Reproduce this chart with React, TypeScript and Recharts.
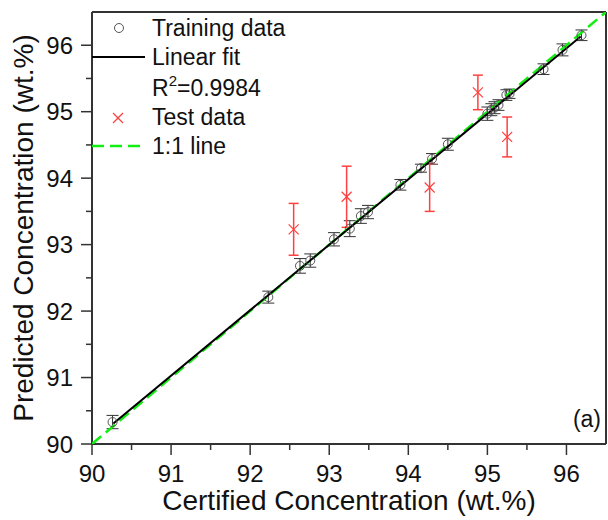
import { ScatterChart, Scatter, XAxis, YAxis, ErrorBar, ReferenceLine } from 'recharts';

// training samples: certified vs predicted concentration (wt.%)
const trainCertified = [90.26, 92.23, 92.63, 92.76, 93.06, 93.26, 93.4, 93.49, 93.9, 94.16, 94.3, 94.5, 95.0, 95.05, 95.09, 95.14, 95.24, 95.28, 95.71, 95.95, 96.19];
const trainPredicted = [90.33, 92.21, 92.68, 92.76, 93.08, 93.24, 93.43, 93.49, 93.9, 94.15, 94.29, 94.51, 94.97, 95.03, 95.06, 95.1, 95.25, 95.27, 95.64, 95.93, 96.15];
const trainError = [0.1, 0.09, 0.11, 0.1, 0.1, 0.12, 0.11, 0.1, 0.08, 0.06, 0.08, 0.09, 0.1, 0.09, 0.09, 0.08, 0.08, 0.07, 0.08, 0.09, 0.08];

// test samples
const testCertified = [92.55, 93.22, 94.27, 94.88, 95.25];
const testPredicted = [93.23, 93.72, 93.86, 95.29, 94.62];
const testError = [0.39, 0.46, 0.36, 0.26, 0.3];

// linear fit end points and the 1:1 line
const fitX = [90.27, 96.18];
const fitY = [90.31, 96.13];
const identityX = [90, 96.5];

const axisTicks = [90, 90.5, 91, 91.5, 92, 92.5, 93, 93.5, 94, 94.5, 95, 95.5, 96];

const trainData = trainCertified.map((x, i) => ({ x, y: trainPredicted[i], err: trainError[i] }));
const testData = testCertified.map((x, i) => ({ x, y: testPredicted[i], err: testError[i] }));
const fitData = fitX.map((x, i) => ({ x, y: fitY[i] }));
const identityData = identityX.map((x) => ({ x, y: x }));

const FONT = '"Liberation Sans", Arial, sans-serif';
const AXIS = '#333';
const GREEN = '#11ee11';
const RED = '#ff4040';

const XTick = (props: any) => {
  const { x, y, payload } = props;
  const major = Number.isInteger(payload.value);
  return (
    <g>
      <line x1={x} y1={y} x2={x} y2={y + (major ? 11 : 6)} stroke={AXIS} strokeWidth={1.5} />
      {major && (
        <text x={x} y={y + 38} textAnchor="middle" fontSize={24} fontFamily={FONT} fill="#111">
          {payload.value}
        </text>
      )}
    </g>
  );
};

const YTick = (props: any) => {
  const { x, y, payload } = props;
  const major = Number.isInteger(payload.value);
  return (
    <g>
      <line x1={x - (major ? 11 : 6)} y1={y} x2={x} y2={y} stroke={AXIS} strokeWidth={1.5} />
      {major && (
        <text x={x - 19} y={y + 8.5} textAnchor="end" fontSize={24} fontFamily={FONT} fill="#111">
          {payload.value}
        </text>
      )}
    </g>
  );
};

const OpenCircle = (props: any) => (
  <circle cx={props.cx} cy={props.cy} r={4.5} fill="none" stroke="#555" strokeWidth={1} />
);

const Cross = (props: any) => {
  const { cx, cy } = props;
  const s = 5;
  return (
    <g stroke={RED} strokeWidth={1.2}>
      <line x1={cx - s} y1={cy - s} x2={cx + s} y2={cy + s} />
      <line x1={cx - s} y1={cy + s} x2={cx + s} y2={cy - s} />
    </g>
  );
};

const NoDot = () => <g />;

export default function App() {
  return (
    <div style={{ position: 'absolute', left: 0, top: 0, width: 608, height: 520, background: '#fff' }}>
      <ScatterChart width={608} height={520} margin={{ top: 12, right: 2, bottom: 0, left: 0 }}>
        <XAxis
          type="number"
          dataKey="x"
          domain={[90, 96.5]}
          ticks={axisTicks}
          interval={0}
          height={76}
          tickSize={0}
          tickMargin={0}
          tickLine={false}
          tick={<XTick />}
          axisLine={{ stroke: AXIS, strokeWidth: 2 }}
          allowDataOverflow
        />
        <YAxis
          type="number"
          dataKey="y"
          domain={[90, 96.5]}
          ticks={axisTicks}
          interval={0}
          width={92}
          tickSize={0}
          tickMargin={0}
          tickLine={false}
          tick={<YTick />}
          axisLine={{ stroke: AXIS, strokeWidth: 2 }}
          allowDataOverflow
        />
        <ReferenceLine y={96.5} stroke={AXIS} strokeWidth={2} />
        <ReferenceLine x={96.5} stroke={AXIS} strokeWidth={2} />
        <Scatter
          data={identityData}
          line={{ stroke: GREEN, strokeWidth: 2.5, strokeDasharray: '12 6' }}
          shape={<NoDot />}
          isAnimationActive={false}
        />
        <Scatter
          data={fitData}
          line={{ stroke: '#000', strokeWidth: 2 }}
          shape={<NoDot />}
          isAnimationActive={false}
        />
        <Scatter data={trainData} shape={<OpenCircle />} isAnimationActive={false}>
          <ErrorBar dataKey="err" direction="y" width={6} stroke="#333" strokeWidth={1} />
        </Scatter>
        <Scatter data={testData} shape={<Cross />} isAnimationActive={false}>
          <ErrorBar dataKey="err" direction="y" width={5} stroke={RED} strokeWidth={1.5} />
        </Scatter>
      </ScatterChart>
      <svg
        width={608}
        height={520}
        style={{ position: 'absolute', left: 0, top: 0, pointerEvents: 'none' }}
        fontFamily={FONT}
        fill="#111"
      >
        <circle cx={119} cy={28} r={4.5} fill="none" stroke="#555" strokeWidth={1} />
        <text x={152} y={36} fontSize={23}>Training data</text>
        <line x1={92} y1={57} x2={145} y2={57} stroke="#000" strokeWidth={2} />
        <text x={152} y={65} fontSize={23}>Linear fit</text>
        <text x={152} y={96} fontSize={23}>
          R<tspan fontSize={15} dy={-10}>2</tspan>
          <tspan dy={10}>=0.9984</tspan>
        </text>
        <g stroke={RED} strokeWidth={1.2}>
          <line x1={113} y1={113} x2={123} y2={123} />
          <line x1={113} y1={123} x2={123} y2={113} />
        </g>
        <text x={152} y={125} fontSize={23}>Test data</text>
        <line x1={92} y1={146} x2={140} y2={146} stroke={GREEN} strokeWidth={2.5} strokeDasharray="12 6" />
        <text x={152} y={154} fontSize={23}>1:1 line</text>
        <text x={601} y={427} fontSize={23} textAnchor="end">(a)</text>
        <text x={349} y={510} fontSize={28} textAnchor="middle">Certified Concentration (wt.%)</text>
        <text x={33} y={228} fontSize={28} textAnchor="middle" transform="rotate(-90, 33, 228)">
          Predicted Concentration (wt.%)
        </text>
      </svg>
    </div>
  );
}
